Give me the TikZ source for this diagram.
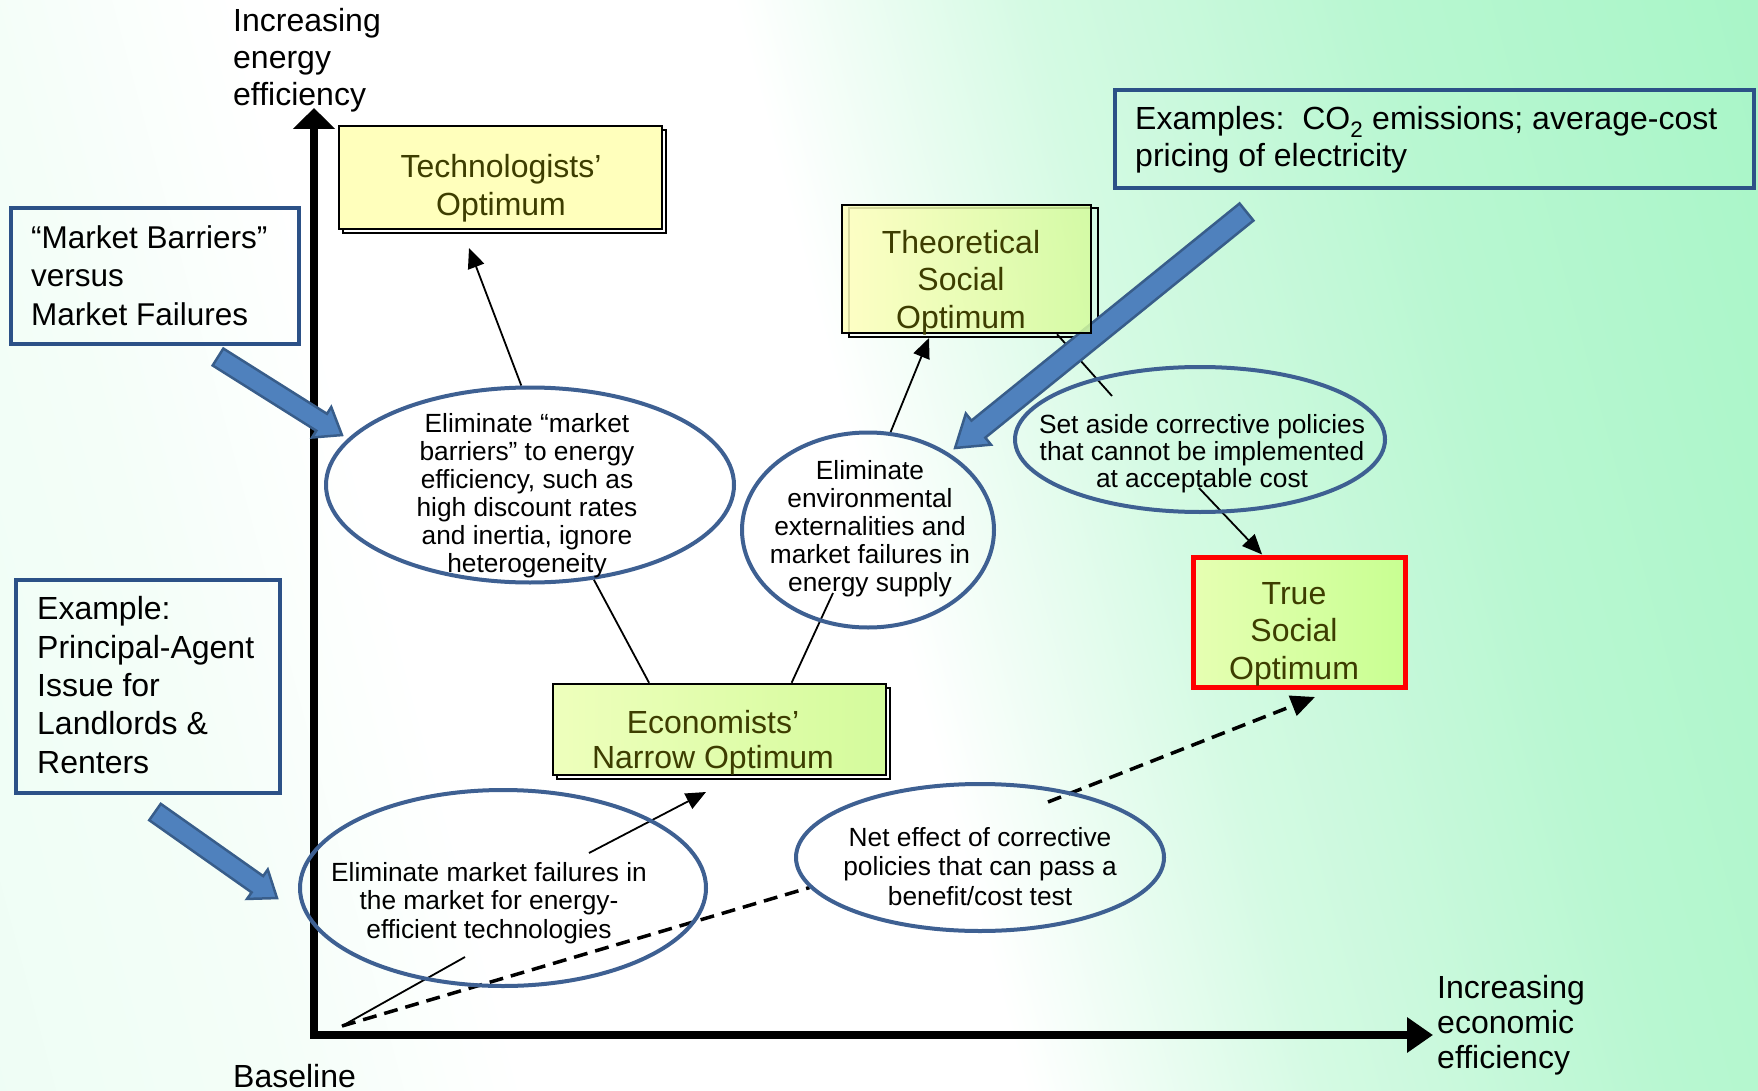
\documentclass[tikz,border=0pt]{standalone}
\usepackage{fontspec}
\setmainfont{Liberation Sans}
\usetikzlibrary{arrows.meta,calc,shapes.geometric}
\definecolor{boxblue}{HTML}{2C5187}
\definecolor{ellblue}{HTML}{3E6092}
\definecolor{arrfill}{HTML}{4F81BD}
\definecolor{arrdraw}{HTML}{385D8A}
\definecolor{txtolive}{HTML}{3D3D00}
\definecolor{bgL}{HTML}{EBFDF3}
\definecolor{bgLb}{HTML}{F4FEF8}
\definecolor{bgM}{HTML}{D4FAE3}
\definecolor{bgN}{HTML}{B8F7D1}
\definecolor{bgR}{HTML}{A6F5C6}
\definecolor{yelA}{HTML}{FFFFBC}
\definecolor{yelB}{HTML}{D4FB9C}
\definecolor{yelC}{HTML}{EEFFBC}
\definecolor{trueA}{HTML}{E6FFB2}
\definecolor{trueB}{HTML}{C8FF92}
\pgfdeclarehorizontalshading{bgshade}{100bp}{color(0bp)=(bgL); color(26bp)=(bgL); color(35bp)=(bgLb); color(40bp)=(white); color(50bp)=(white); color(56bp)=(bgM); color(63bp)=(bgN); color(72bp)=(bgR); color(100bp)=(bgR)}
\pgfdeclarelayer{bglayer}
\pgfdeclarelayer{lines}
\pgfsetlayers{bglayer,lines,main}
\newcommand{\myBig}{\fontsize{32}{37.5}\selectfont}
\newcommand{\myEll}{\fontsize{26.3}{28}\selectfont}
\newcommand{\blockarr}[7]{%
  \begin{scope}[shift={(#1,#2)}, rotate=#3]
    \draw[barrow] (0,#5) -- ({#4-#7},#5) -- ({#4-#7},#6) -- (#4,0) -- ({#4-#7},-#6) -- ({#4-#7},-#5) -- (0,-#5) -- cycle;
  \end{scope}}
\begin{document}
\begin{tikzpicture}[x=1pt,y=-1pt,
  conn/.style={draw=black, line width=1.8pt},
  arr/.style={-{Triangle[length=20pt,width=17pt]}},
  dashconn/.style={draw=black, line width=3.5pt, dash pattern=on 14pt off 8pt},
  barrow/.style={fill=arrfill, draw=arrdraw, line width=2.5pt, line join=miter},
  bluebox/.style={draw=boxblue, line width=3.5pt, inner sep=0pt},
  ell/.style={ellipse, draw=ellblue, line width=4pt, inner sep=0pt},
  ybox/.style={draw=black, line width=2.5pt, inner sep=0pt},
  boxtxt/.style={font=\myBig, text=txtolive, align=center, inner sep=0pt},
  lbl/.style={font=\myBig, align=left, inner sep=0pt},
  elltxt/.style={font=\myEll, align=center, inner sep=0pt}]

\useasboundingbox (0,0) rectangle (1758,1091);

% ---------- nodes (text anchors: baseline of the last line) ----------
\node[ybox, fill=yelA, minimum width=323pt, minimum height=103pt] (tech) at (500.5,177.5) {};
\node[ybox, left color=yelA, right color=yelB, fill opacity=0.85, minimum width=249pt, minimum height=128pt] (theo) at (966.5,269) {};
\node[ybox, left color=yelC, right color=yelB, minimum width=333pt, minimum height=91pt] (econ) at (719.5,729.5) {};
\node[draw=red, line width=5pt, left color=trueA, right color=trueB, minimum width=212pt, minimum height=130pt, inner sep=0pt] (true) at (1299,622) {};

\node[boxtxt, anchor=base] (techt) at (501,215.5) {Technologists’\\Optimum};
\node[boxtxt, anchor=base] (theot) at (961,328) {Theoretical\\Social\\Optimum};
\node[boxtxt, anchor=base, font=\fontsize{32}{35}\selectfont] (econt) at (713,768) {Economists’\\Narrow Optimum};
\node[boxtxt, anchor=base] (truet) at (1294,679) {True\\Social\\Optimum};

\node[bluebox, minimum width=288pt, minimum height=136pt] (mb) at (155,276) {};
\node[lbl, anchor=base west, font=\fontsize{31.5}{38.5}\selectfont] (mbt) at (31,325) {“Market Barriers”\\versus\\Market Failures};
\node[bluebox, minimum width=264pt, minimum height=213pt] (pa) at (148,686.5) {};
\node[lbl, anchor=base west, font=\fontsize{32}{38.3}\selectfont] (pat) at (37,773) {Example:\\Principal-Agent\\Issue for\\Landlords \&\\Renters};
\node[bluebox, minimum width=639pt, minimum height=98pt] (co2) at (1434.5,139) {};
\node[lbl, anchor=base west, font=\fontsize{32}{37}\selectfont] (co2t) at (1135,167) {Examples:\ \ CO\textsubscript{2} emissions; average-cost\\pricing of electricity};

\node[lbl, anchor=base west, font=\fontsize{32}{37}\selectfont] (ylab) at (233,106) {Increasing\\energy\\efficiency};
\node[lbl, anchor=base west, font=\fontsize{32}{35}\selectfont] (xlab) at (1437,1068) {Increasing\\economic\\efficiency};
\node[lbl, anchor=base west] (blab) at (233,1087) {Baseline};

\node[ell, minimum width=408pt, minimum height=195pt] (e1) at (530,485) {};
\node[elltxt, anchor=base] (e1t) at (527,572) {Eliminate “market\\barriers” to energy\\efficiency, such as\\high discount rates\\and inertia, ignore\\heterogeneity};
\node[ell, minimum width=252pt, minimum height=195pt] (e2) at (868,530) {};
\node[elltxt, anchor=base] (e2t) at (870,591) {Eliminate\\environmental\\externalities and\\market failures in\\energy supply};
\node[ell, minimum width=370pt, minimum height=145pt] (e3) at (1200,439.5) {};
\node[elltxt, anchor=base, font=\fontsize{26.3}{27}\selectfont] (e3t) at (1202,487) {Set aside corrective policies\\that cannot be implemented\\at acceptable cost};
\node[ell, minimum width=406pt, minimum height=196pt] (e4) at (503,888) {};
\node[elltxt, anchor=base, font=\fontsize{26.3}{28.5}\selectfont] (e4t) at (489,938) {Eliminate market failures in\\the market for energy-\\efficient technologies};
\node[ell, minimum width=368pt, minimum height=147pt] (e5) at (980,857.5) {};
\node[elltxt, anchor=base, font=\fontsize{26.3}{29.5}\selectfont] (e5t) at (980,905) {Net effect of corrective\\policies that can pass a\\benefit/cost test};

% ---------- background and axes ----------
\begin{pgfonlayer}{bglayer}
\begin{scope}
\clip (0,0) rectangle (1758,1091);
\shade[shading=bgshade, transform canvas={rotate around={15:(879,545.5)}}] (-321,-654.5) rectangle (2079,1745.5);
\end{scope}
\coordinate (O) at (314,1035);
\coordinate (ytip) at (314,108);
\coordinate (xtip) at (1433,1035);
\draw[line width=7.5pt, line join=miter, {Triangle[length=21pt,width=41pt]}-{Triangle[length=26pt,width=34pt]}] (ytip) -- (O) -- (xtip);
\end{pgfonlayer}

% ---------- connectors, shadows, block arrows ----------
\begin{pgfonlayer}{lines}
\draw[line width=1.2pt] (343,130) rectangle (666,233);
\draw[line width=1.2pt] (849,208) rectangle (1098,337);
\draw[line width=1.2pt] (557,688) rectangle (890,779);

\coordinate (tipTech) at (469,248);
\coordinate (e2in) at (833,593);
\coordinate (tipTheo) at (929,338);
\coordinate (e3in) at (1112,396);
\coordinate (e3in2) at (1199,488);
\coordinate (base) at (342,1026);
\coordinate (e4in1) at (465,957);
\coordinate (e4in2) at (589,853);
\coordinate (tipEcon) at (706,792);
\coordinate (e5in) at (1048,802);
\coordinate (tipTrue) at (1315,697);

\draw[conn, arr] (e1.95) -- (tipTech);
\draw[conn] ($(econ.north west)!0.29!(econ.north east)$) -- (e1.-56);
\draw[conn] ($(econ.north west)!0.715!(econ.north east)$) -- (e2in);
\draw[conn, arr] (e2.77) -- (tipTheo);
\draw[conn] ($(theo.south west)!0.86!(theo.south east)$) -- (e3in);
\draw[conn, arr] (e3in2) -- ($(true.north west)!0.33!(true.north east)$);
\draw[conn] (base) -- (e4in1);
\draw[conn, arr] (e4in2) -- (tipEcon);
\draw[dashconn] (base) -- (e5.190);
\draw[dashconn, -{Triangle[length=24pt,width=21pt]}] (e5in) -- (tipTrue);

\blockarr{218}{357}{-32.2}{146.5}{10}{18}{24}
\blockarr{1246.5}{212}{-141}{375}{11}{20}{30}
\blockarr{155}{812}{-35.2}{149.3}{10}{18}{24}
\end{pgfonlayer}
\end{tikzpicture}
\end{document}
